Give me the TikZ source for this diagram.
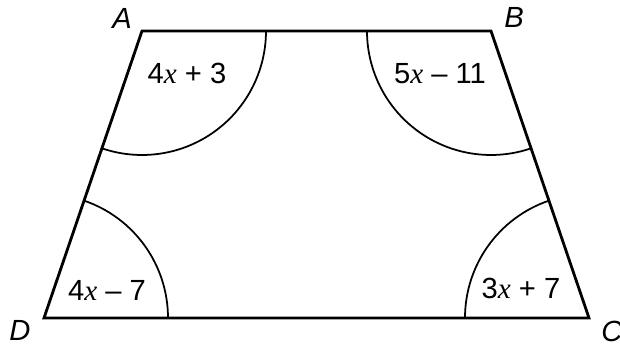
\documentclass[tikz,border=0pt]{standalone}
\usepackage{fontspec}
\setmainfont{Liberation Sans}
\newfontfamily\serifx{Liberation Serif}
\usetikzlibrary{calc}

\newcommand{\vx}{{\serifx\itshape x}}

\begin{document}
\begin{tikzpicture}[x=0.02cm, y=0.02cm]
\def\r{124}
\tikzset{
  side/.style={line width=1.6pt, line join=miter},
  angarc/.style={line width=1pt},
  lbl/.style={font=\fontsize{16.6}{19}\selectfont, inner sep=0pt},
  vlbl/.style={font=\fontsize{16.6}{19}\selectfont\itshape, inner sep=0pt}
}
\useasboundingbox (0, 0) rectangle (620, 347);

\coordinate (A) at (142, 316);
\coordinate (B) at (491, 316);
\coordinate (C) at (589, 29);
\coordinate (D) at (44, 29);

\draw [side] (A) -- (B) -- (C) -- (D) -- cycle;

\draw [angarc] ($(A)+(\r, 0)$) arc [start angle=0, end angle=-108.85, radius=\r];
\draw [angarc] ($(B)+(-\r, 0)$) arc [start angle=180, end angle=288.85, radius=\r];
\draw [angarc] ($(D)+(\r, 0)$) arc [start angle=0, end angle=71.15, radius=\r];
\draw [angarc] ($(C)+(-\r, 0)$) arc [start angle=180, end angle=108.85, radius=\r];

\node (lA) [vlbl] at (122, 329) {A};
\node (lB) [vlbl] at (514, 330) {B};
\node (lC) [vlbl] at (612, 16) {C};
\node (lD) [vlbl] at (20, 17) {D};

\node (aA) [lbl] at (187, 274) {4\vx\ + 3};
\node (aB) [lbl] at (440, 273) {5\vx\ – 11};
\node (aD) [lbl] at (107, 57) {4\vx\ – 7};
\node (aC) [lbl] at (521, 59) {3\vx\ + 7};
\end{tikzpicture}
\end{document}
